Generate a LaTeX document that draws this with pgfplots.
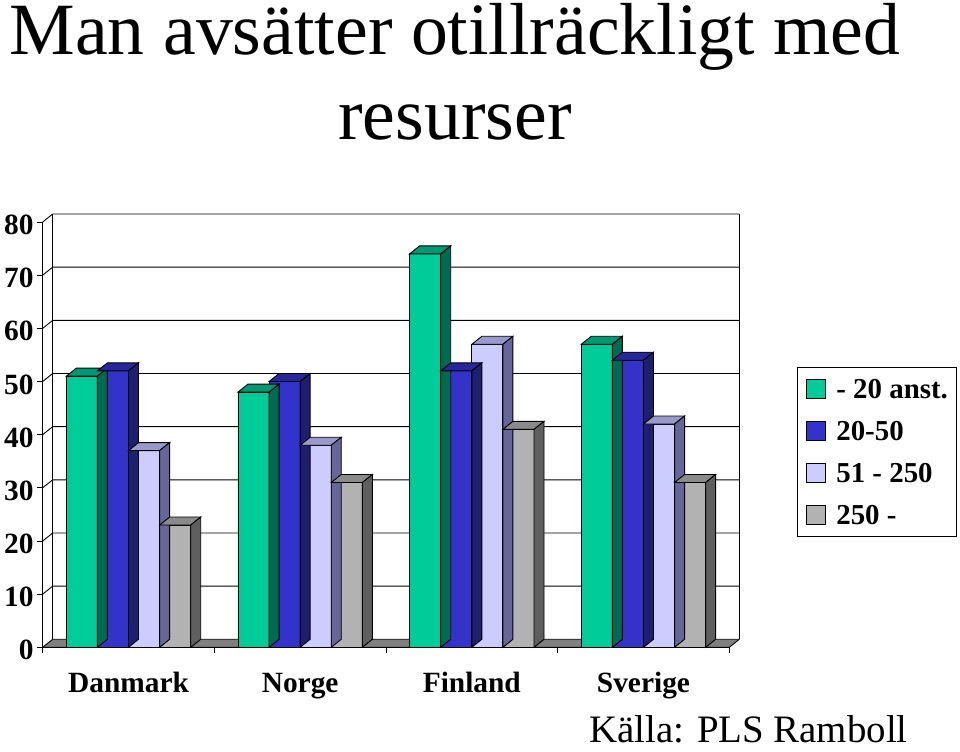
\documentclass[border=0pt]{standalone}
\usepackage{pgfplots}
\pgfplotsset{compat=1.18}
\usepackage{fontspec}
\setmainfont{Liberation Serif}

\definecolor{gF}{HTML}{00CC99}\definecolor{gT}{HTML}{009973}\definecolor{gS}{HTML}{006B50}
\definecolor{bF}{HTML}{3333CC}\definecolor{bT}{HTML}{27279C}\definecolor{bS}{HTML}{1F1F70}
\definecolor{lF}{HTML}{CCCCFF}\definecolor{lT}{HTML}{9999CC}\definecolor{lS}{HTML}{666699}
\definecolor{yF}{HTML}{B2B2B2}\definecolor{yT}{HTML}{8A8A8A}\definecolor{yS}{HTML}{5F5F5F}
\definecolor{floorc}{HTML}{808080}

% 3D top and side faces of a bar, drawn as a mark at the data point (category, value)
\newcommand\declbox[4]{%
\pgfdeclareplotmark{#1}{%
  \pgfmathsetlengthmacro\hh{\barv*5.31625bp}%
  \pgftransformxshift{#2}%
  \pgfsetlinewidth{0.9bp}\pgfsetstrokecolor{black}%
  \pgfpathmoveto{\pgfpoint{-31.1bp}{0bp}}%
  \pgfpathlineto{\pgfpoint{0bp}{0bp}}%
  \pgfpathlineto{\pgfpoint{10bp}{8bp}}%
  \pgfpathlineto{\pgfpoint{-21.1bp}{8bp}}%
  \pgfpathclose
  \pgfsetfillcolor{#3}\pgfusepath{fill,stroke}%
  \pgfpathmoveto{\pgfpoint{0bp}{0bp}}%
  \pgfpathlineto{\pgfpoint{10bp}{8bp}}%
  \pgfpathlineto{\pgfpoint{10bp}{8bp-\hh}}%
  \pgfpathlineto{\pgfpoint{0bp}{-\hh}}%
  \pgfpathclose
  \pgfsetfillcolor{#4}\pgfusepath{fill,stroke}%
}}
\declbox{boxG}{-31.1bp}{gT}{gS}
\declbox{boxB}{0bp}{bT}{bS}
\declbox{boxL}{31.1bp}{lT}{lS}
\declbox{boxY}{62.2bp}{yT}{yS}

\pgfplotstableread{
x y
0 51
1 48
2 74
3 57
}\small
\pgfplotstableread{
x y
0 52
1 50
2 52
3 54
}\mid
\pgfplotstableread{
x y
0 37
1 38
2 57
3 42
}\large
\pgfplotstableread{
x y
0 23
1 31
2 41
3 31
}\big

\begin{document}
\begin{tikzpicture}
\path[use as bounding box] (0,0) rectangle (960bp,752bp);
\begin{axis}[
  at={(42.7bp,104.7bp)}, anchor=south west,
  scale only axis, width=686.6bp, height=425.3bp,
  xmin=-0.5, xmax=3.5, ymin=0, ymax=80,
  clip=false,
  axis x line*=bottom, axis y line*=left,
  axis line style={black, line width=0.9bp},
  tick style={black, line width=0.9bp},
  tick align=outside, major tick length=6bp,
  xtick={-0.5,0.5,1.5,2.5,3.5}, xticklabels={},
  extra x ticks={0,1,2,3},
  extra x tick labels={Danmark,Norge,Finland,Sverige},
  extra x tick style={major tick length=0pt,
     xticklabel style={anchor=base, yshift=-44.7bp, inner sep=0pt}},
  ytick={0,10,...,80},
  /pgf/number format/assume math mode=true,
  ticklabel style={font=\bfseries\fontsize{29.5}{29.5}\selectfont},
  yticklabel style={anchor=east, inner sep=0pt, xshift=-3bp, yshift=-3bp},
  mybar/.style={ybar, bar width=31.1bp, draw=black, line width=0.9bp,
     legend image code/.code={\draw[##1, line width=0.9bp] (0bp,-9.5bp) rectangle (19bp,9.5bp);
        \path (29bp,0bp);}},
  legend style={at={(1.0986,0.6591)}, anchor=north west, draw=black, line width=0.9bp,
     font=\bfseries\fontsize{29}{29}\selectfont, inner xsep=9bp, inner ysep=11bp,
     row sep=21bp, column sep=0bp,
     nodes={inner sep=0pt, text height=20bp, text depth=1bp}},
  legend cell align=left,
]
% back wall, left wall grid and floor
\fill[floorc] (axis cs:-0.5,0) -- (axis cs:3.5,0) -- ([shift={(10bp,8bp)}]axis cs:3.5,0) -- ([shift={(10bp,8bp)}]axis cs:-0.5,0) -- cycle;
\pgfplotsinvokeforeach{0,10,20,30,40,50,60,70,80}{
  \draw[black, line width=0.9bp] (axis cs:-0.5,#1) -- ([shift={(10bp,8bp)}]axis cs:-0.5,#1) -- ([shift={(10bp,8bp)}]axis cs:3.5,#1);
}
\draw[black, line width=0.9bp] ([shift={(10bp,8bp)}]axis cs:-0.5,0) -- ([shift={(10bp,8bp)}]axis cs:-0.5,80);
\draw[black, line width=0.9bp] ([shift={(10bp,8bp)}]axis cs:3.5,0) -- ([shift={(10bp,8bp)}]axis cs:3.5,80);
\draw[black, line width=0.9bp] (axis cs:-0.5,0) -- (axis cs:3.5,0) -- ([shift={(10bp,8bp)}]axis cs:3.5,0);

\addplot[mybar, fill=gF, bar shift=-46.65bp] table[x=x,y=y] {\small};
\addlegendentry{- 20 anst.}
\addplot[only marks, mark=boxG, forget plot, visualization depends on={rawy \as \barv}] table[x=x,y=y] {\small};
\addplot[mybar, fill=bF, bar shift=-15.55bp] table[x=x,y=y] {\mid};
\addlegendentry{20-50}
\addplot[only marks, mark=boxB, forget plot, visualization depends on={rawy \as \barv}] table[x=x,y=y] {\mid};
\addplot[mybar, fill=lF, bar shift=15.55bp] table[x=x,y=y] {\large};
\addlegendentry{51 - 250}
\addplot[only marks, mark=boxL, forget plot, visualization depends on={rawy \as \barv}] table[x=x,y=y] {\large};
\addplot[mybar, fill=yF, bar shift=46.65bp] table[x=x,y=y] {\big};
\addlegendentry{250 -}
\addplot[only marks, mark=boxY, forget plot, visualization depends on={rawy \as \barv}] table[x=x,y=y] {\big};
\end{axis}
\node[anchor=base, font=\fontsize{74}{88}\selectfont, inner sep=0pt] at (455bp,697bp) {Man avsätter otillräckligt med};
\node[anchor=base, font=\fontsize{74}{88}\selectfont, inner sep=0pt] at (455bp,612bp) {resurser};
\node[anchor=base west, font=\fontsize{39}{39}\selectfont, inner sep=0pt] at (589bp,10bp) {Källa: PLS Ramboll};
\end{tikzpicture}
\end{document}
